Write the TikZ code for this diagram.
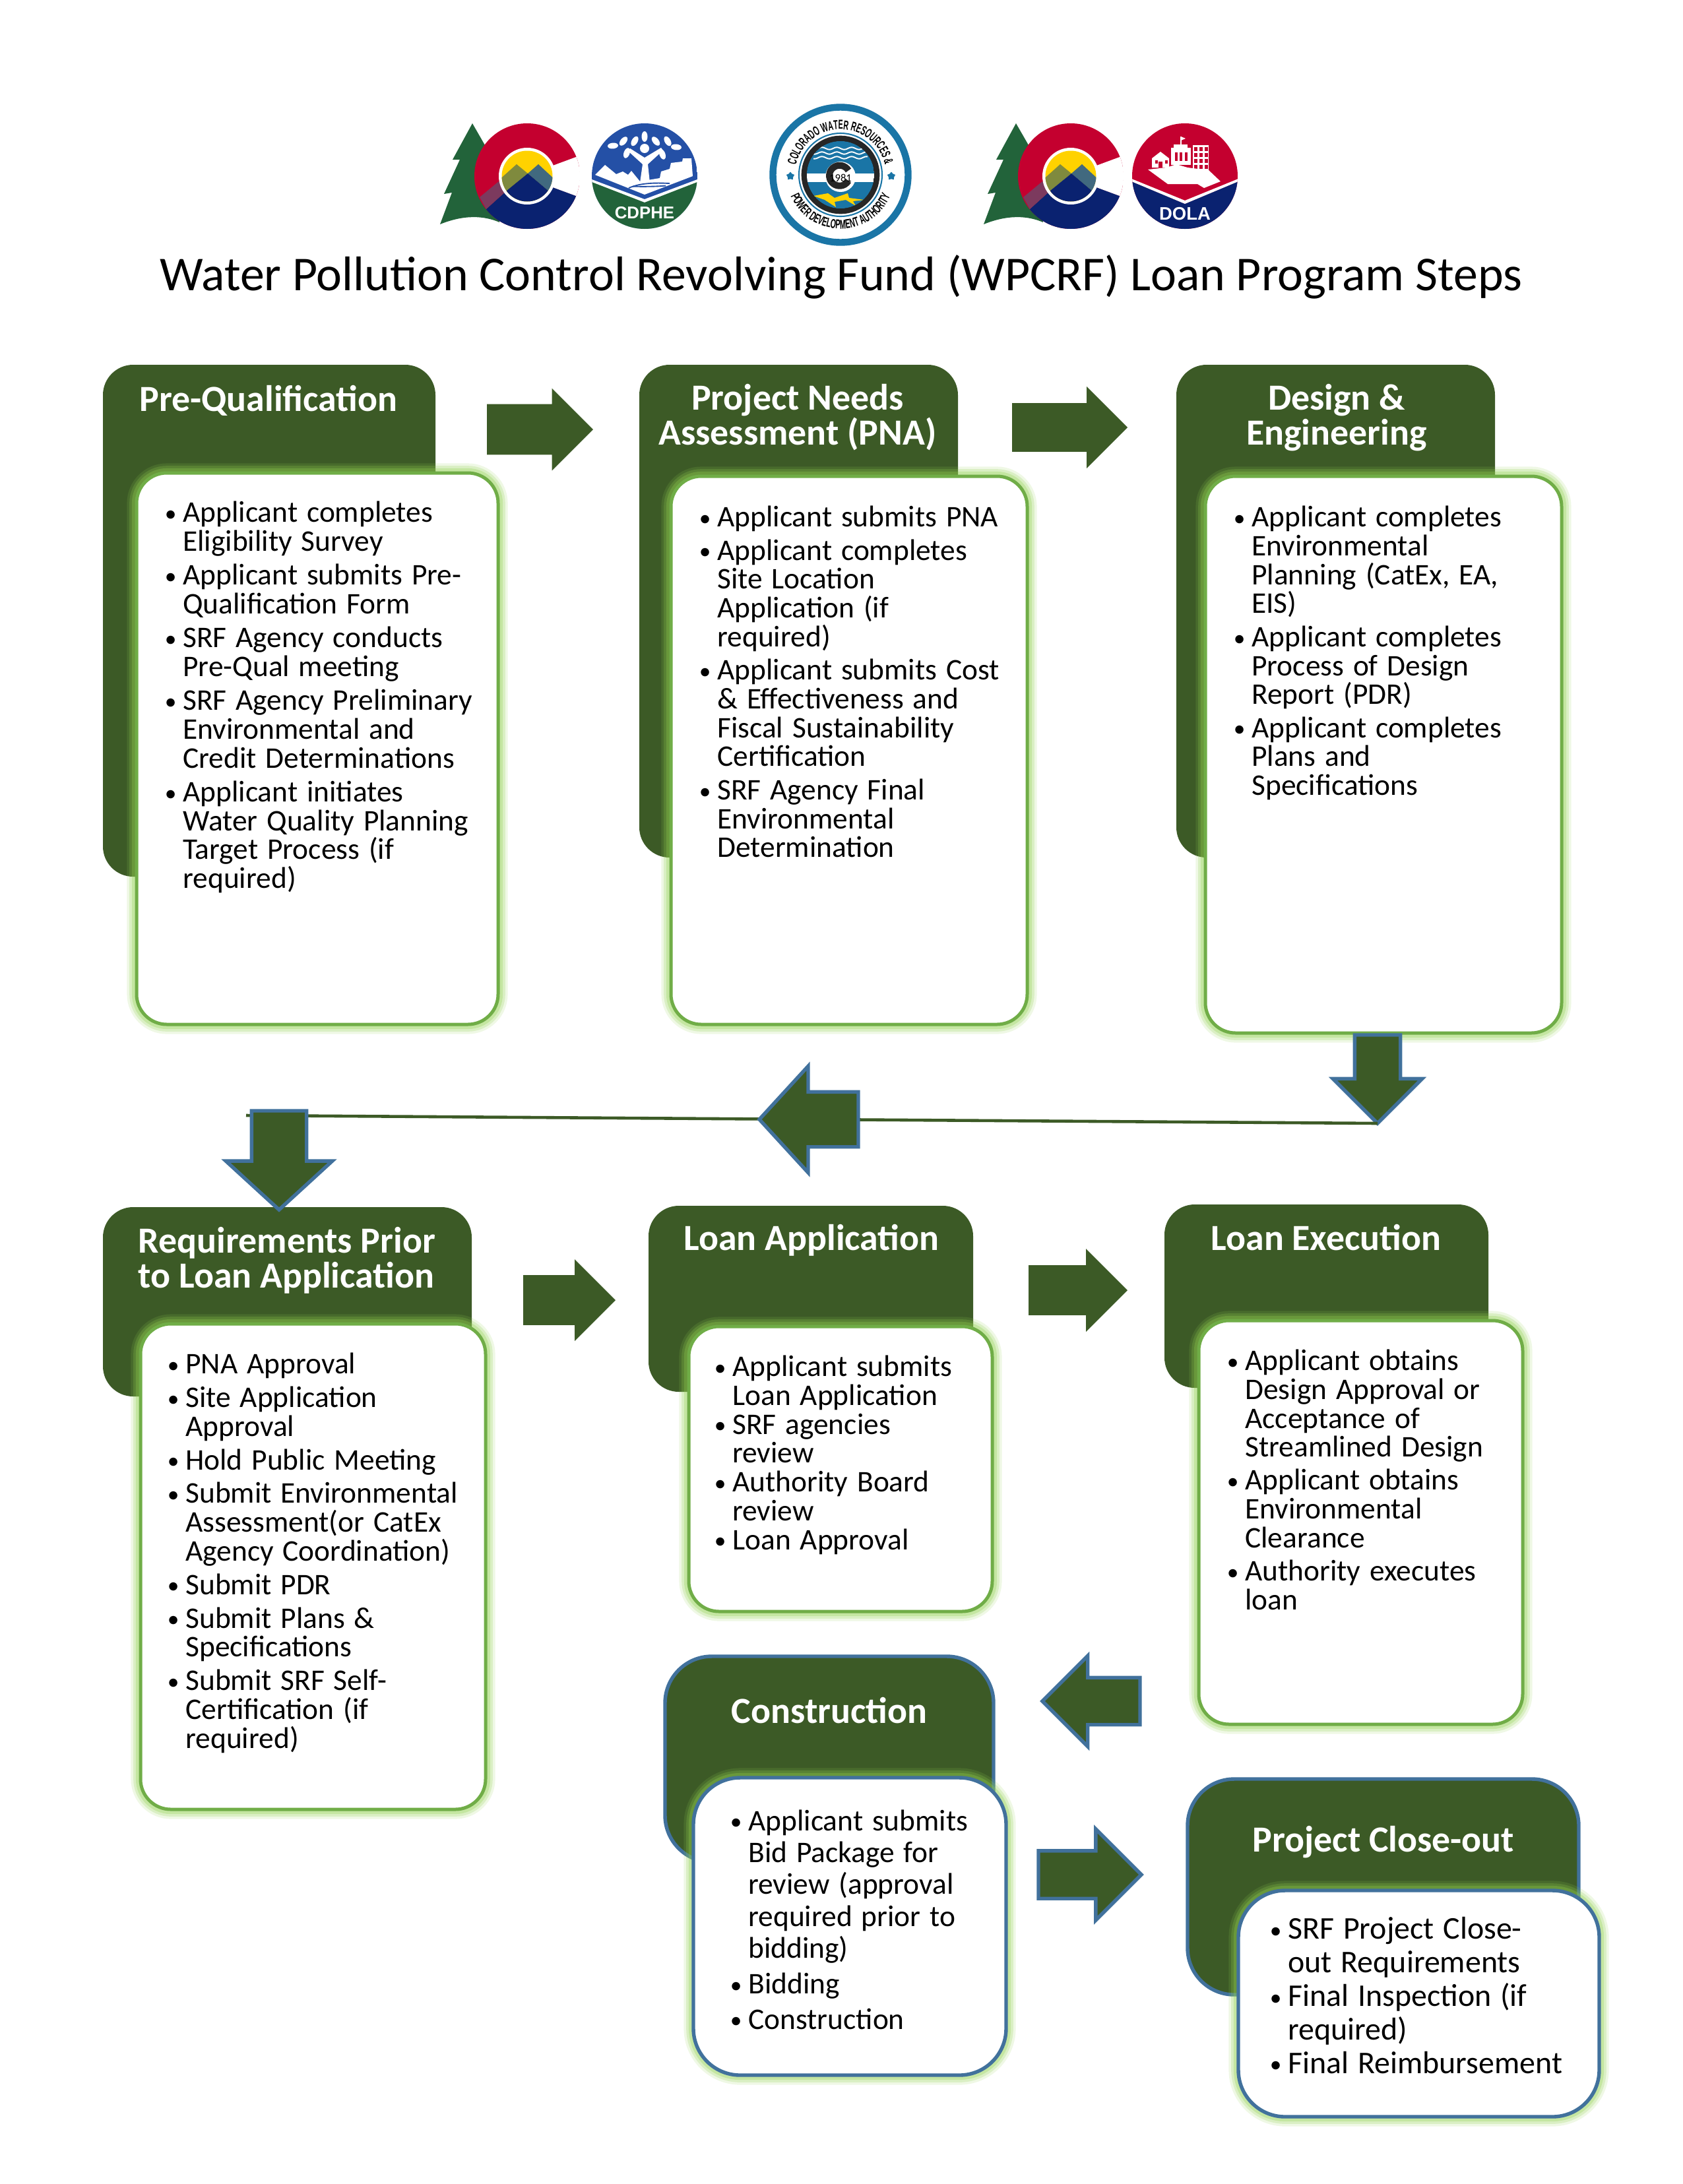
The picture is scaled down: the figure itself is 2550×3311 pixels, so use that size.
\documentclass[tikz,border=0pt]{standalone}
\usepackage{fontspec}
\setmainfont{Carlito}
\newfontfamily\logofont{Liberation Sans}
\newfontfamily\sealfont[FakeStretch=.55]{Liberation Sans}
\usetikzlibrary{shapes.arrows,shapes.geometric,decorations.text}
\definecolor{headgreen}{HTML}{3C5A26}
\definecolor{edgegreen}{HTML}{70AD47}
\definecolor{glowgreen}{HTML}{92D050}
\definecolor{edgeblue}{HTML}{41719C}
\definecolor{cored}{HTML}{C4002F}
\definecolor{conavy}{HTML}{0A2270}
\definecolor{cotree}{HTML}{22633A}
\definecolor{cogold}{HTML}{FFD200}
\definecolor{coolive}{HTML}{7F8A3E}
\definecolor{coteal}{HTML}{41697F}
\definecolor{copurple}{HTML}{7C3A5E}
\definecolor{cdblue}{HTML}{2450A6}
\definecolor{sealblue}{HTML}{1A75A6}
\newcommand{\stepbullet}{\raisebox{.3bp}{\fontsize{8.5bp}{8.5bp}\selectfont\textbullet}}
\newenvironment{steplist}[3][10.9bp]{\fontsize{#1}{#2}\selectfont
  \begin{list}{\stepbullet}{\setlength{\leftmargin}{6.6bp}\setlength{\labelsep}{0pt}%
    \setlength{\labelwidth}{6.6bp}\setlength{\itemindent}{0pt}\setlength{\topsep}{0pt}%
    \setlength{\partopsep}{0pt}\setlength{\parsep}{0pt}\setlength{\itemsep}{#3}%
    \renewcommand{\makelabel}[1]{##1\hfil}}}{\end{list}}
\tikzset{
  boxsize/.style 2 args = { minimum width = #1*.24bp, minimum height = #2*.24bp },
  headbox/.style = { fill = headgreen, rounded corners = 11bp, anchor = north west, inner sep = 0, outer sep = 0 },
  bodybox/.style = { fill = white, draw = edgegreen, line width = 1.2bp, rounded corners = 11bp, anchor = north west, inner sep = 0, outer sep = 0,
    preaction = { draw = glowgreen, draw opacity = .15, line width = 7bp },
    preaction = { draw = glowgreen, draw opacity = .22, line width = 5.2bp },
    preaction = { draw = glowgreen, draw opacity = .3, line width = 3.4bp } },
  blueedge/.style = { draw = edgeblue, line width = 1.3bp },
  roundmore/.style = { rounded corners = 17bp },
  headtext/.style = { text = white, align = center, font = \fontsize{13.4bp}{12.7bp}\selectfont\bfseries },
  listtext/.style = { anchor = north west, inner sep = 0, text width = 125bp, align = left },
  blockarrow/.style = { shape = single arrow, fill = headgreen, anchor = tail, inner xsep = 0, outer sep = 0 },
  arrowsize/.style n args = {3}{ minimum height = #1*.24bp, inner ysep = #2*.12bp, single arrow head extend = #3*.24bp },
  downsize/.style n args = {3}{ shape border rotate = 270, minimum height = #1*.24bp, inner ysep = 0, inner xsep = #2*.12bp, single arrow head extend = #3*.24bp },
  cologo/.pic = {
    \fill [cotree] (-83,-80) -- (-60,-40) -- (-42,70) .. controls (-65,60) and (-95,58) .. (-132,73)
      -- (-114,25) -- (-126,27) -- (-102,-25) -- (-113,-25) -- cycle;
    \begin{scope}
      \clip (0,0) circle [radius = 80];
      \fill [cored] (-80,-80) rectangle (80,80);
      \fill [conavy] (-62,50) -- (-31,22) -- (39,17) -- (85,34) -- (85,85) -- (-62,85) -- cycle;
      \fill [copurple] (-72,32) -- (-43,8) -- (-31,22) -- (-62,50) -- cycle;
      \fill [white] (85,-33) -- (39,-16) -- (39,17) -- (85,34) -- cycle;
    \end{scope}
    \fill [white] (0,0) circle [radius = 43];
    \begin{scope}
      \clip (0,0) circle [radius = 38.5];
      \fill [cogold] (-40,-40) rectangle (40,40);
      \fill [coolive] (-16,-18) -- (1,-4) -- (-31,22) -- (-45,22) -- (-45,8) -- cycle;
      \fill [coteal] (17,-18) -- (1,-4) -- (33,23) -- (45,23) -- (45,8) -- cycle;
      \fill [conavy] (1,-4) -- (33,23) -- (33,45) -- (-31,45) -- (-31,22) -- cycle;
    \end{scope}
  },
  cdphelogo/.pic = {
    \begin{scope}
      \clip (0,0) circle [radius = 80];
      \fill [cdblue] (-80,-80) rectangle (80,80);
      \fill [white] (-80,5) -- (0,35) -- (80,5) -- (80,80) -- (-80,80) -- cycle;
      \fill [cotree] (-80,9) -- (0,40) -- (80,9) -- (80,80) -- (-80,80) -- cycle;
      \fill [white] (-75,-2) -- (-60,-17) -- (-43,-3) -- (-33,-7) -- (-25,-2) -- (-20,-8) -- (-7,8) -- (23,3) -- (25,-7) -- (38,-11) -- (40,-20) -- (57,-22) -- (58,-27) -- (71,-27) -- (73,0) -- (0,28) -- cycle;
      \foreach \wr in {0,6}
        \draw [cdblue, line width = .45bp] (-24+\wr,18-\wr*.4) .. controls (-5,10+\wr) and (15,10+\wr) .. (38-\wr,11+\wr*.6);
    \end{scope}
    \fill [white] (-7,10) -- (-3,-18) -- (-25,-38) -- (-22,-42) -- (0,-28) -- (25,-43) -- (28,-39) -- (5,-18) -- (8,10) -- cycle;
    \fill [white] (0,-42) circle [radius = 7];
    \foreach \lx/\ly/\la in {-48/-46/5,-32/-53/50,-27/-35/70,-15/-53/60,0/-60/90,17/-53/-50,35/-53/-60,48/-44/-5,27/-33/-70}
      \fill [white, rotate around = {\la:(\lx,\ly)}] (\lx,\ly) ellipse [x radius = 8, y radius = 4.5];
    \node (cdname) [text = white, font = \logofont\fontsize{6.2bp}{7bp}\selectfont\bfseries] at (0,56) {CDPHE};
  },
  dolalogo/.pic = {
    \begin{scope}
      \clip (0,0) circle [radius = 80];
      \fill [cored] (-81,-81) rectangle (81,81);
      \fill [conavy] (-81,8) -- (0,42) -- (81,8) -- (81,81) -- (-81,81) -- cycle;
      \fill [white] (-81,4) -- (0,37) -- (81,4) -- (81,8) -- (0,42) -- (-81,8) -- cycle;
    \end{scope}
    \fill [white] (-50,-27) -- (-37,-37) -- (-24,-27) -- (-24,-13) -- (-50,-13) -- cycle;
    \fill [white] (-21,-43) rectangle (9,-17);
    \fill [white] (-17,-48) rectangle (4,-43);
    \draw [white, line width = .4bp] (-6,-48) -- (-6,-60);
    \fill [white] (-6,-60) -- (1,-57) -- (-6,-54) -- cycle;
    \fill [white] (12,-47) rectangle (36,-9);
    \foreach \wy in {-44,-35,-26,-17}
      \foreach \wx in {14,22,30}
        \fill [cored] (\wx,\wy) rectangle +(5,5.5);
    \foreach \wx in {-15,-8,0}
      \fill [cored] (\wx,-36) rectangle +(4,13);
    \foreach \wx in {-45,-30}
      \fill [cored] (\wx,-24) rectangle +(4,5);
    \fill [cored] (-40,-22) rectangle (-34,-13);
    \fill [white] (-56,-10) -- (-28,-13) -- (-13,-18) -- (4,-13) -- (36,-9) -- (54,8) -- (29,18) -- (19,12) -- (-26,12) -- cycle;
    \node (dolaname) [text = white, font = \logofont\fontsize{6.6bp}{7.5bp}\selectfont\bfseries] at (0,57) {DOLA};
  },
  seallogo/.pic = {
    \draw [sealblue, line width = 2.5bp] (0,0) circle [radius = 102.5];
    \draw [sealblue, line width = .5bp] (0,0) circle [radius = 63];
    \draw [black!85, line width = 2.1bp] (0,0) circle [radius = 55];
    \begin{scope}
      \clip (0,0) circle [radius = 51];
      \fill [sealblue] (-51,-51) rectangle (51,51);
      \foreach \wy in {-40,-33,-26}
        \draw [white, line width = .45bp] plot [domain = -41:41, samples = 50] (\x, {\wy+1.7*sin(\x*16)});
      \fill [white] (-51,-2) rectangle (51,11);
      \fill [cogold] (-41,32) -- (-19,28) -- (-9,35) -- (11,28) -- (13,35) -- (36,38) -- (19,40) -- (23,47) -- (8,38) -- (-9,41) -- (-7,49) -- (-24,38) -- cycle;
    \end{scope}
    \fill [white] (0,3) circle [radius = 23];
    \draw [black!85, line width = 2.4bp] (12,-6.5) arc [start angle = -30, end angle = -330, radius = 15.5];
    \node (sealyear) [font = \fontsize{4bp}{4.5bp}\selectfont] at (0,5) {1981};
    \node (sealstara) [star, fill = sealblue, inner sep = 0, minimum size = 13*.24bp] at (-76,2) {};
    \node (sealstarb) [star, fill = sealblue, inner sep = 0, minimum size = 13*.24bp] at (77,2) {};
    \path [decorate, decoration = { text along path, text align = center,
      text = {|\sealfont\fontsize{4.7bp}{5bp}\selectfont\bfseries|COLORADO WATER RESOURCES {\&}} }]
      (0,0) ++(186:69) arc [start angle = 186, end angle = 354, radius = 69];
    \path [decorate, decoration = { text along path, text align = center,
      text = {|\sealfont\fontsize{4.7bp}{5bp}\selectfont\bfseries|POWER DEVELOPMENT AUTHORITY} }]
      (0,0) ++(170:82) arc [start angle = 170, end angle = 10, radius = 82];
  }
}
\begin{document}
\begin{tikzpicture}[x = .24bp, y = -.24bp]
  \useasboundingbox (0,0) rectangle (2550,3311);

  \pic at (799,267) {cologo};
  \pic at (977,267) {cdphelogo};
  \pic at (1274,265) {seallogo};
  \pic at (1623,267) {cologo};
  \pic at (1796,267) {dolalogo};
  \node (title) [font = \fontsize{17.7bp}{20bp}\selectfont] at (1275,420) {Water Pollution Control Revolving Fund (WPCRF) Loan Program Steps};

  \node (prequal) [headbox, boxsize = {504}{776}] at (156,553) {};
  \node (prequalbody) [bodybox, boxsize = {548}{836}] at (207,717) {};
  \node (prequaltext) [headtext] at (407,607) {Pre-Qualification};
  \node (prequallist) [listtext] at (249,747) {\begin{steplist}{10.5bp}{1.8bp}
    \item Applicant completes\\ Eligibility Survey
    \item Applicant submits Pre-\\ Qualification Form
    \item SRF Agency conducts\\ Pre-Qual meeting
    \item SRF Agency Preliminary\\ Environmental and\\ Credit Determinations
    \item Applicant initiates\\ Water Quality Planning\\ Target Process (if\\ required)
  \end{steplist}};

  \node (needs) [headbox, boxsize = {483}{747}] at (969,553) {};
  \node (needsbody) [bodybox, boxsize = {540}{831}] at (1017,722) {};
  \node (needstext) [headtext] at (1209,633) {Project Needs\\ Assessment (PNA)};
  \node (needslist) [listtext] at (1059,754) {\begin{steplist}{10.5bp}{1.6bp}
    \item Applicant submits PNA
    \item Applicant completes\\ Site Location\\ Application (if\\ required)
    \item Applicant submits Cost\\ \& Effectiveness and\\ Fiscal Sustainability\\ Certification
    \item SRF Agency Final\\ Environmental\\ Determination
  \end{steplist}};

  \node (design) [headbox, boxsize = {483}{747}] at (1783,553) {};
  \node (designbody) [bodybox, boxsize = {540}{844}] at (1827,722) {};
  \node (designtext) [headtext] at (2026,633) {Design \&\\ Engineering};
  \node (designlist) [listtext] at (1869,754) {\begin{steplist}{10.5bp}{1.6bp}
    \item Applicant completes\\ Environmental\\ Planning (CatEx, EA,\\ EIS)
    \item Applicant completes\\ Process of Design\\ Report (PDR)
    \item Applicant completes\\ Plans and\\ Specifications
  \end{steplist}};

  \node (require) [headbox, boxsize = {559}{287}] at (156,1830) {};
  \node (requirebody) [bodybox, boxsize = {523}{736}] at (213,2007) {};
  \node (requiretext) [headtext, align = left] at (435,1911) {Requirements Prior\\ to Loan Application};
  \node (requirelist) [listtext] at (253,2038) {\begin{steplist}{10.5bp}{1.7bp}
    \item PNA Approval
    \item Site Application\\ Approval
    \item Hold Public Meeting
    \item Submit Environmental\\ Assessment(or CatEx\\ Agency Coordination)
    \item Submit PDR
    \item Submit Plans \&\\ Specifications
    \item Submit SRF Self-\\ Certification (if\\ required)
  \end{steplist}};

  \node (loanapp) [headbox, boxsize = {492}{282}] at (983,1828) {};
  \node (loanappbody) [bodybox, boxsize = {460}{432}] at (1044,2011) {};
  \node (loanapptext) [headtext] at (1230,1880) {Loan Application};
  \node (loanapplist) [listtext] at (1082,2042) {\begin{steplist}{10.5bp}{0bp}
    \item Applicant submits\\ Loan Application
    \item SRF agencies\\ review
    \item Authority Board\\ review
    \item Loan Approval
  \end{steplist}};

  \node (loanexec) [headbox, boxsize = {491}{278}] at (1765,1826) {};
  \node (loanexecbody) [bodybox, boxsize = {491}{612}] at (1817,2002) {};
  \node (loanexectext) [headtext] at (2010,1876) {Loan Execution};
  \node (loanexeclist) [listtext] at (1859,2033) {\begin{steplist}{10.5bp}{1.5bp}
    \item Applicant obtains\\ Design Approval or\\ Acceptance of\\ Streamlined Design
    \item Applicant obtains\\ Environmental\\ Clearance
    \item Authority executes\\ loan
  \end{steplist}};

  \node (build) [headbox, roundmore, blueedge, boxsize = {498}{312}] at (1008,2511) {};
  \node (buildbody) [bodybox, roundmore, blueedge, boxsize = {474}{451}] at (1051,2695) {};
  \node (buildtext) [headtext] at (1257,2593) {Construction};
  \node (buildlist) [listtext] at (1106,2726) {\begin{steplist}{11.6bp}{1.3bp}
    \item Applicant submits\\ Bid Package for\\ review (approval\\ required prior to\\ bidding)
    \item Bidding
    \item Construction
  \end{steplist}};

  \node (closeout) [headbox, roundmore, blueedge, boxsize = {593}{327}] at (1800,2697) {};
  \node (closeoutbody) [bodybox, roundmore, blueedge, boxsize = {547}{343}] at (1877,2866) {};
  \node (closeouttext) [headtext] at (2097,2793) {Project Close-out};
  \node (closeoutlist) [listtext] at (1924,2888) {\begin{steplist}[11.5bp]{12.2bp}{0bp}
    \item SRF Project Close-\\ out Requirements
    \item Final Inspection (if\\ required)
    \item Final Reimbursement
  \end{steplist}};

  \node (prequalarrow) [blockarrow, arrowsize = {161}{75}{24}] at (738,651) {};
  \node (needsarrow) [blockarrow, arrowsize = {175}{72}{25}] at (1534,648) {};
  \node (requirearrow) [blockarrow, arrowsize = {140}{74}{24}] at (793,1971) {};
  \node (loanapparrow) [blockarrow, arrowsize = {150}{74}{25}] at (1559,1956) {};
  \coordinate (joinend) at (373,1691);
  \node (designarrow) [blockarrow, blueedge, downsize = {134}{64}{33}] at (2088,1569) {};
  \draw [headgreen, line width = 1.1bp] (designarrow.tip) -- (joinend);
  \node (backarrow) [blockarrow, blueedge, shape border rotate = 180, arrowsize = {150}{78}{39}, single arrow tip angle = 95] at (1301,1697) {};
  \node (downarrow) [blockarrow, blueedge, downsize = {150}{78}{39}, single arrow tip angle = 95] at (423,1684) {};
  \node (execarrow) [blockarrow, blueedge, shape border rotate = 180, arrowsize = {148}{66}{33}] at (1728,2579) {};
  \node (buildarrow) [blockarrow, blueedge, arrowsize = {156}{67}{33}] at (1574,2842) {};
\end{tikzpicture}
\end{document}
